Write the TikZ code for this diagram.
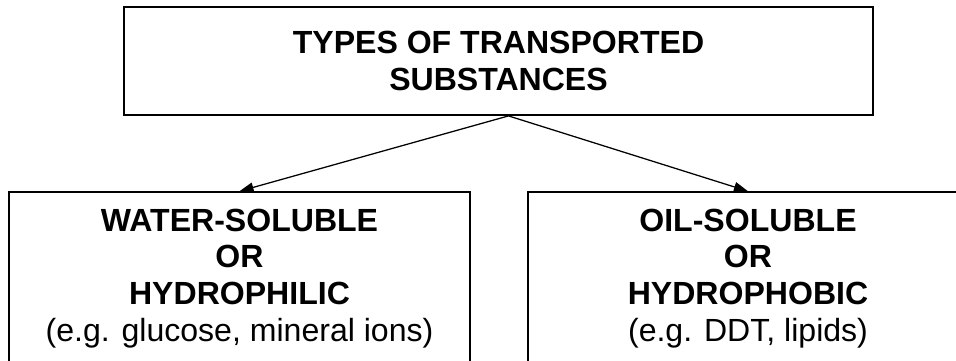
\documentclass[tikz,border=0pt]{standalone}
\usepackage{fontspec}
\setmainfont{Liberation Sans}
\usetikzlibrary{arrows.meta,positioning}

\begin{document}
\begin{tikzpicture}[every node/.style={font=\fontsize{22.8}{26.2}\selectfont},
    headbox/.style={draw,line width=1.3pt,align=center,
                    minimum width=18.725cm,minimum height=2.7cm},
    kindbox/.style={draw,line width=1.1pt,align=center,
                    minimum height=4.325cm},
    arr/.style={-{Triangle[length=10pt,width=7pt]},line width=0.9pt}]
  \useasboundingbox (0,0) rectangle (23.9,9);
  \clip (0,0) rectangle (23.9,9);
  \node[headbox] (head) at (12.4625, 7.475)
        {\textbf{TYPES OF TRANSPORTED}\\ \textbf{SUBSTANCES}};
  \node[kindbox,minimum width=11.525cm] (water) at (5.9875, 2.0375)
        {\textbf{WATER-SOLUBLE}\\ \textbf{OR}\\ \textbf{HYDROPHILIC}\\ (e.g. glucose, mineral ions)};
  \node[kindbox,minimum width=11cm] (oil) at (18.7, 2.0375)
        {\textbf{OIL-SOLUBLE}\\ \textbf{OR}\\ \textbf{HYDROPHOBIC}\\ (e.g. DDT, lipids)};
  \draw[arr] ([xshift=0.25cm]head.south) -- (water.north);
  \draw[arr] ([xshift=0.25cm]head.south) -- (oil.north);
\end{tikzpicture}
\end{document}
